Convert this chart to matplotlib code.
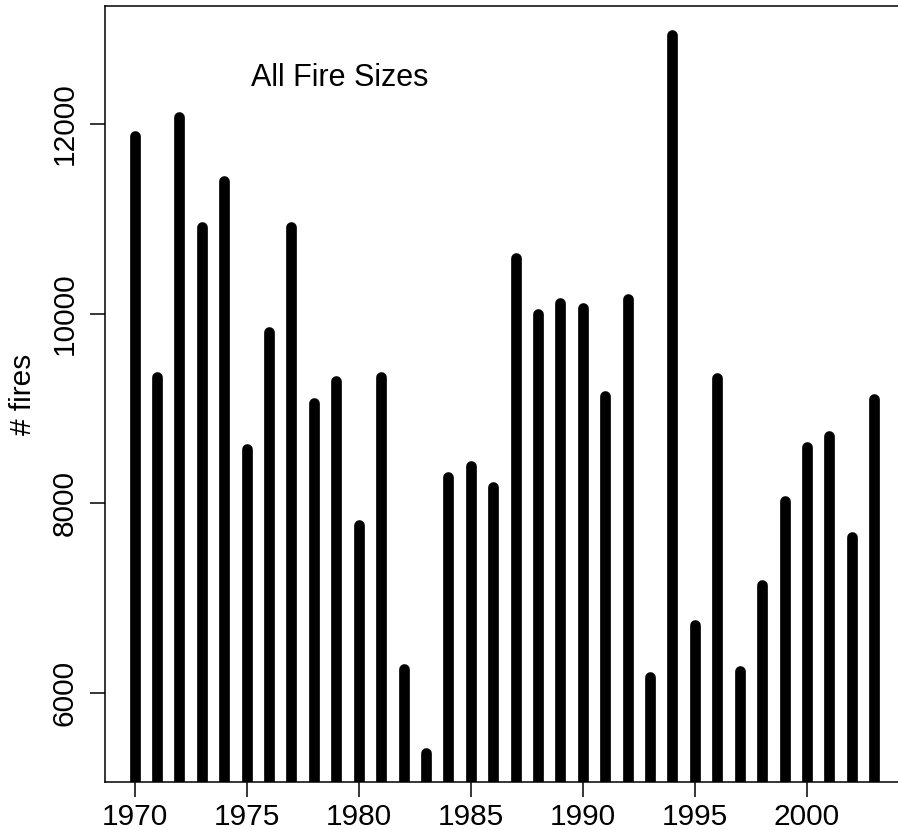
import matplotlib
matplotlib.use("Agg")
import matplotlib.pyplot as plt
import numpy as np

plt.rcParams['font.family'] = ['Liberation Sans', 'DejaVu Sans']

years = list(range(1970, 2004))
fires = [11876, 9327, 12070, 10916, 11401, 8571, 9802, 10916, 9053, 9291,
         7772, 9326, 6250, 5361, 8272, 8391, 8167, 10586, 9995, 10108,
         10058, 9133, 10153, 6162, 12941, 6717, 9320, 6232, 7136, 8025,
         8595, 8705, 7639, 9098]
yticks = [6000, 8000, 10000, 12000]
xticks = [1970, 1975, 1980, 1985, 1990, 1995, 2000]

fig = plt.figure(figsize=(8.98, 8.3), dpi=100)
ax = fig.add_axes([0.1169, 0.0578, 0.8895, 0.935])

ax.vlines(years, 0, fires, colors='black', linewidth=7.7, capstyle='round')

# R style 4% padding
yr = max(fires) - min(fires)
ax.set_ylim(min(fires) - 0.04 * yr, max(fires) + 0.04 * yr)
xr = years[-1] - years[0]
ax.set_xlim(years[0] - 0.04 * xr, years[-1] + 0.04 * xr)

ax.set_yticks(yticks)
ax.set_yticklabels([str(v) for v in yticks], rotation=90, va='center')
ax.set_xticks(xticks)
ax.tick_params(axis='both', labelsize=21.5, length=11, width=1.1)
ax.tick_params(axis='y', pad=8)
ax.tick_params(axis='x', pad=4)

for s in ax.spines.values():
    s.set_linewidth(1.1)
ax.spines['right'].set_visible(False)

ax.set_ylabel('# fires', fontsize=21.5, labelpad=10)
ax.text(1979.15, 12480, 'All Fire Sizes', fontsize=22, ha='center', va='center')

fig.savefig('out.png', dpi=100)
